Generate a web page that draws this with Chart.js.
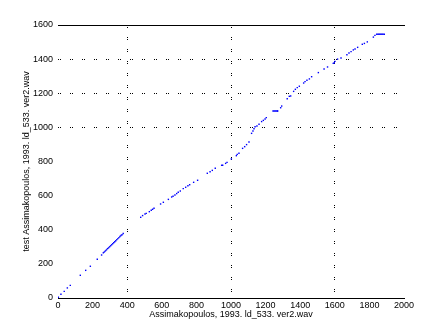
<!DOCTYPE html>
<html lang="en">
<head>
  <meta charset="UTF-8">
  <title>Assimakopoulos ld_533 ver2</title>
  <script src="https://cdn.jsdelivr.net/npm/chart.js"></script>
  <style>
    body {
      margin: 0;
      background: #ffffff;
    }
    #wrap {
      width: 447px;
      height: 335px;
    }
  </style>
</head>
<body>

<div id="wrap">
  <canvas id="scatterChart" width="447" height="335"></canvas>
</div>

<script>
// values
const refX = [2, 17, 36, 54, 71, 129, 160, 187, 227, 252,
  262, 268, 274, 280, 286, 292, 298, 304, 310, 316, 322, 328, 334, 340, 346, 352, 358, 364, 370, 377,
  478, 489, 503, 510, 528, 539, 547, 555, 593, 609, 638, 657, 665,
  676, 686, 695, 707, 724, 738, 751, 761, 784, 807, 863, 879, 892, 909,
  946, 952, 969, 977, 1002, 1031, 1036, 1046,
  1067, 1079, 1090, 1104, 1119, 1127, 1133, 1139, 1150, 1162, 1177, 1187, 1197, 1204,
  1243, 1249, 1255, 1261, 1267, 1270, 1287, 1293, 1325, 1337, 1345,
  1362, 1372, 1383, 1395, 1420, 1428, 1439, 1453, 1466, 1505, 1538, 1558,
  1591, 1597, 1601, 1616, 1636, 1670, 1682, 1694, 1707, 1717, 1732,
  1759, 1771, 1788, 1823, 1832,
  1842, 1849, 1855, 1861, 1867, 1873, 1879, 1886];
const testY = [4, 22, 39, 59, 74, 133, 162, 186, 227, 252,
  265, 270, 276, 282, 289, 294, 300, 306, 312, 318, 324, 330, 336, 342, 348, 354, 360, 366, 371, 378,
  473, 483, 492, 496, 506, 514, 520, 526, 551, 561, 578, 592, 596,
  604, 612, 620, 627, 641, 649, 658, 664, 678, 690, 731, 740, 748, 760,
  778, 778, 789, 795, 815, 834, 842, 848,
  877, 887, 899, 914, 965, 979, 992, 1004, 1008, 1018, 1034, 1041, 1049, 1057,
  1096, 1096, 1096, 1096, 1096, 1096, 1115, 1125, 1168, 1182, 1184,
  1211, 1223, 1233, 1241, 1260, 1268, 1276, 1284, 1297, 1321, 1342, 1354,
  1375, 1379, 1387, 1400, 1407, 1426, 1436, 1444, 1454, 1459, 1469,
  1487, 1492, 1501, 1529, 1539,
  1546, 1546, 1546, 1546, 1546, 1546, 1546, 1546];

const xGridAt = [400, 1000, 1600];
const yGridAt = [1000, 1200, 1400];

const xTitle = 'Assimakopoulos, 1993. ld_533. ver2.wav';
const yTitle = 'test Assimakopoulos, 1993. ld_533. ver2.wav';

const points = refX.map((x, i) => ({x: x, y: testY[i]}));
const labelFont = {family: 'Liberation Sans', size: 9};
const plain = v => String(v);

new Chart(document.getElementById('scatterChart'), {
  type: 'scatter',
  data: {
    datasets: [{
      data: points,
      backgroundColor: '#0000ff',
      pointStyle: 'rect',
      pointRadius: 1,
      pointBorderWidth: 0
    }]
  },
  options: {
    responsive: false,
    animation: false,
    layout: {padding: {left: 0, right: 43, top: 25, bottom: 15}},
    plugins: {legend: {display: false}, tooltip: {enabled: false}},
    scales: {
      x: {
        type: 'linear',
        min: 0,
        max: 2000,
        afterFit: s => { s.height = 22; },
        ticks: {stepSize: 200, color: '#000', font: labelFont, padding: 2, maxRotation: 0, autoSkip: false, callback: plain},
        grid: {
          drawTicks: false,
          color: c => xGridAt.includes(c.tick.value) ? '#000' : 'rgba(0,0,0,0)'
        },
        border: {display: true, color: '#000', dash: [1, 1, 1, 9]},
        title: {display: true, text: xTitle, color: '#000', font: labelFont, padding: 0}
      },
      x2: {
        type: 'linear',
        position: 'top',
        min: 0,
        max: 2000,
        afterFit: s => { s.height = 0; },
        ticks: {display: false},
        grid: {display: false, drawTicks: false},
        border: {display: true, color: '#000'}
      },
      y: {
        type: 'linear',
        min: 0,
        max: 1600,
        afterFit: s => { s.width = 58; },
        ticks: {stepSize: 200, color: '#000', font: labelFont, padding: 5, autoSkip: false, callback: plain},
        grid: {
          drawTicks: false,
          color: c => yGridAt.includes(c.tick.value) ? '#000' : 'rgba(0,0,0,0)'
        },
        border: {display: false, dash: [1, 1, 1, 9]},
        title: {display: true, text: yTitle, color: '#000', font: labelFont, padding: {top: 21, bottom: 0}}
      }
    }
  }
});
</script>

</body>
</html>
